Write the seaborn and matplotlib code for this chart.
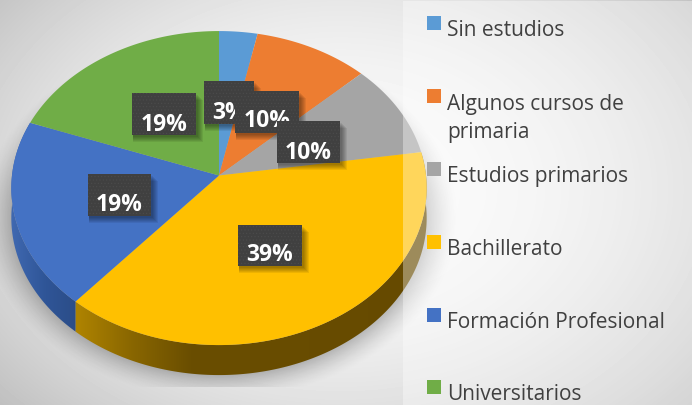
import numpy as np
import matplotlib.pyplot as plt
from matplotlib.patches import Polygon, Rectangle
import seaborn as sns

# Data: respondents per education level
categories = ["Sin estudios", "Algunos cursos de\nprimaria", "Estudios primarios",
              "Bachillerato", "Formación Profesional", "Universitarios"]
counts = [1, 3, 3, 12, 6, 6]
slice_colors = ["#5B9BD5", "#ED7D31", "#A5A5A5", "#FFC000", "#4472C4", "#70AD47"]

# Where each percentage box sits (left, top, right, bottom, text x, text y)
label_boxes = [(204, 82, 254, 125, 229, 119),
               (235, 92, 299, 134, 267, 127),
               (277, 122, 340, 164, 308, 159),
               (238, 226, 302, 267, 270, 261),
               (88, 175, 151, 217, 119, 211),
               (132, 94, 196, 136, 164, 131)]
legend_baselines = [36, 138, 182, 255, 328, 400]
legend_squares = [17, 90, 163, 236, 309, 381]

W, H = 692, 406
CX, CY = 219, 176.5  # apex of the pie on screen
RX, RY, TILT = 207, 156, 0.08
DEPTH = 30

sns.set_theme(style="white")
palette = sns.color_palette(slice_colors)
plt.rcParams['font.family'] = ['Open Sans', 'DejaVu Sans']
plt.rcParams['hatch.linewidth'] = 0.4


def rim(theta):
    # theta clockwise from 12 o'clock, tilted disc seen in perspective
    k = 1 + TILT * np.cos(theta)
    return CX + RX * np.sin(theta) / k, CY - RY * np.cos(theta) / k


fig = plt.figure(figsize=(W / 100, H / 100), dpi=100)
ax = fig.add_axes([0, 0, 1, 1])
ax.set_xlim(0, W)
ax.set_ylim(H, 0)
ax.axis('off')

# Background radial gradient
yy, xx = np.mgrid[0:H, 0:W]
d = np.sqrt(((xx - 340) / 420) ** 2 + ((yy - 190) / 300) ** 2)
bg = 0.985 - 0.2 * np.clip(d, 0, 1.2) ** 2
ax.imshow(bg, cmap='gray', vmin=0, vmax=1, extent=(0, W, H, 0), zorder=0, aspect='auto')

# Soft shadow under the pie, nothing above it
e = np.sqrt(((xx - 219) / 226) ** 2 + ((yy - 218) / 172) ** 2)
shadow = np.zeros((H, W, 4))
shadow[..., 3] = 0.28 * np.clip((1.06 - e) / 0.16, 0, 1) ** 1.5 * (yy < 388)
ax.imshow(shadow, extent=(0, W, H, 0), zorder=1, aspect='auto')

# Slice angles from the counts
edges = np.concatenate([[0], np.cumsum(counts)]) / sum(counts) * 2 * np.pi

# Side wall, yellow and blue slices are the only ones that show it
wall_stops = {3: (["#AD8200", "#8A6700", "#6A4E00", "#664A00"], [79, 130, 190, 426]),
              4: (["#3F68B0", "#2F5597", "#2B4C86"], [12, 45, 80])}
for i, (cols, xs) in wall_stops.items():
    t = np.linspace(edges[i], edges[i + 1], 200)
    x, y = rim(t)
    pts = np.column_stack([np.r_[x, x[::-1]], np.r_[y, y[::-1] + DEPTH]])
    poly = Polygon(pts, closed=True, facecolor='none', edgecolor='none', zorder=2)
    ax.add_patch(poly)
    rgb = np.array(sns.color_palette(cols))
    grad = np.column_stack([np.interp(np.arange(W), xs, rgb[:, c]) for c in range(3)])
    im = ax.imshow(grad[np.newaxis, :, :], extent=(0, W, H, 0), zorder=2, aspect='auto')
    im.set_clip_path(poly)

# Top of the pie
for i, col in enumerate(palette):
    t = np.linspace(edges[i], edges[i + 1], 200)
    x, y = rim(t)
    ax.fill(np.r_[CX, x], np.r_[CY, y], color=col, lw=0, zorder=3)

# Legend panel is a see-through white sheet over the pie
ax.add_patch(Rectangle((403, 2), W - 403, H, facecolor='white', alpha=0.36, lw=0, zorder=4))

# Percentage boxes
total = sum(counts)
for n, (x0, y0, x1, y1, tx, ty) in enumerate(label_boxes):
    z = 5 + n * 0.1
    for off in [7, 6, 5, 4, 3, 2]:
        ax.add_patch(Rectangle((x0 + 1, y0 + off), x1 - x0 + off - 1, y1 - y0, facecolor='black',
                               alpha=0.07, lw=0, zorder=z))
    ax.add_patch(Rectangle((x0, y0), x1 - x0, y1 - y0, facecolor='#404040', edgecolor='#4C4C4C',
                           hatch='.....', lw=0, zorder=z + 0.01))
    label = f"{round(100 * counts[n] / total)}%"
    txt = ax.text(tx, ty, label, color='white', fontsize=16.5, fontweight='bold',
                  ha='center', va='baseline', zorder=z + 0.02)
    txt.set_clip_path(Rectangle((x0, y0), x1 - x0, y1 - y0, transform=ax.transData))

# Legend
for name, col, base, top in zip(categories, palette, legend_baselines, legend_squares):
    ax.add_patch(Rectangle((427, top), 14, 14, facecolor=col, lw=0, zorder=6))
    ax.text(447, base, name, color='#404040', fontsize=15, ha='left', va='baseline',
            linespacing=1.42, zorder=6)

fig.savefig("out.png", dpi=100)
